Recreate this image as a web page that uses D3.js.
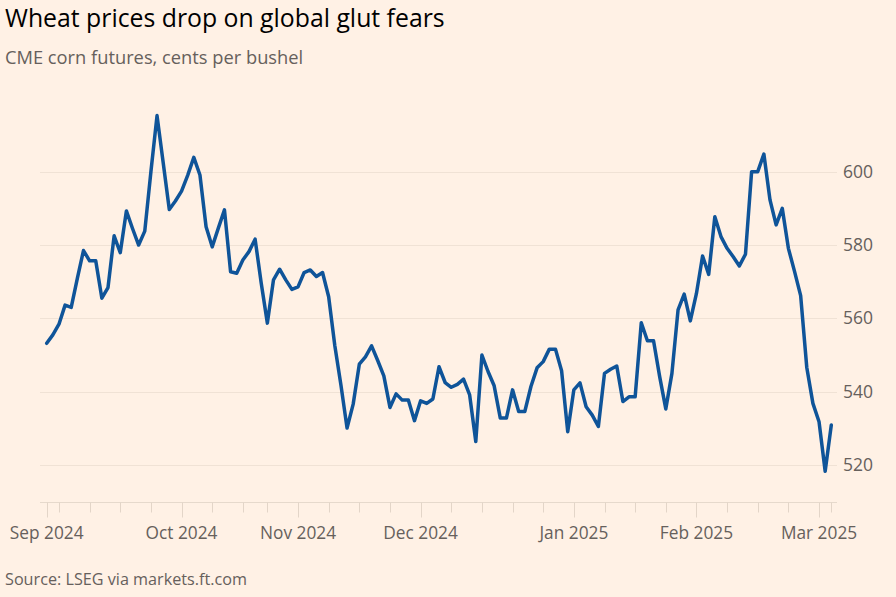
<!DOCTYPE html>
<html>
<head>
<meta charset="utf-8">
<script src="https://cdn.jsdelivr.net/npm/d3@7"></script>
<style>
  html, body { margin: 0; padding: 0; background: #fff1e5; }
  svg { display: block; }
  text { font-family: "Open Sans", "Noto Sans", sans-serif; }
</style>
</head>
<body>
<svg id="chart" width="896" height="597"></svg>
<script>
// ---- Data (weekday index along x, price in cents per bushel) ----
const prices = [
  553.2, 555.5, 558.4, 563.6, 563.0, 570.9, 578.5, 575.7, 575.7, 565.5,
  568.4, 582.5, 577.9, 589.3, 584.5, 580.0, 583.8, 600.0, 615.3, 602.5,
  589.7, 592.0, 594.7, 599.0, 603.9, 599.1, 585.0, 579.5, 584.6, 589.6,
  572.7, 572.3, 575.9, 578.2, 581.6, 569.6, 558.7, 570.5, 573.4, 570.5,
  567.9, 568.6, 572.5, 573.2, 571.4, 572.5, 565.9, 552.6, 541.8, 530.1,
  536.6, 547.5, 549.5, 552.5, 548.5, 544.3, 535.7, 539.4, 537.7, 537.7,
  532.1, 537.5, 536.8, 538.0, 546.8, 542.5, 541.2, 542.0, 543.4, 539.1,
  526.4, 550.0, 545.5, 541.6, 532.8, 532.8, 540.5, 534.6, 534.6, 541.4,
  546.5, 548.2, 551.6, 551.6, 545.7, 529.1, 540.5, 542.4, 535.9, 533.6,
  530.5, 545.0, 546.1, 547.0, 537.3, 538.6, 538.6, 558.8, 553.9, 553.9,
  544.1, 535.3, 545.0, 562.3, 566.6, 559.3, 566.8, 577.0, 572.0, 587.7,
  582.3, 579.1, 576.8, 574.3, 577.5, 600.0, 600.0, 604.8, 592.3, 585.5,
  590.0, 579.1, 572.8, 566.2, 546.6, 536.8, 531.8, 518.3, 530.9
];

// Month labels at the weekly tick of the week containing the month start
const monthTickIndex = [0, 22, 41, 61, 86, 106, 126];
const monthTickLabels = ["Sep 2024", "Oct 2024", "Nov 2024", "Dec 2024", "Jan 2025", "Feb 2025", "Mar 2025"];
// Weekly (minor) ticks, in weekday-index units
const weekTickIndex = [2, 7, 12, 17, 27, 32, 36, 46, 51, 56, 66, 71, 76, 81, 91, 96, 101, 111, 116, 121, 128];

const yTicks = [520, 540, 560, 580, 600];

const titleText = "Wheat prices drop on global glut fears";
const subtitleText = "CME corn futures, cents per bushel";
const sourceText = "Source: LSEG via markets.ft.com";

// ---- Layout ----
const svg = d3.select("#chart");
const plotLeft = 40, plotRight = 837;
const axisY = 502.5;

const x = d3.scaleLinear().domain([0, prices.length - 1]).range([46.7, 831.3]);
const y = d3.scaleLinear().domain([520, 600]).range([465, 171.7]);

// Title & subtitle
svg.append("text").attr("x", 5).attr("y", 27)
  .attr("font-size", 24.8).attr("fill", "#000").text(titleText);
svg.append("text").attr("x", 5).attr("y", 64)
  .attr("font-size", 18.3).attr("fill", "#66605c").text(subtitleText);

// Gridlines
svg.append("g").selectAll("line").data(yTicks).join("line")
  .attr("x1", plotLeft).attr("x2", plotRight)
  .attr("y1", d => Math.round(y(d)) + 0.5).attr("y2", d => Math.round(y(d)) + 0.5)
  .attr("stroke", "#f0e2d5").attr("stroke-width", 1);

// Y axis labels (right)
svg.append("g").selectAll("text").data(yTicks).join("text")
  .attr("x", 843).attr("y", d => y(d)).attr("dy", "0.35em")
  .attr("font-size", 17.5).attr("fill", "#66605c")
  .text(d => d);

// X axis baseline
svg.append("line").attr("x1", plotLeft).attr("x2", plotRight)
  .attr("y1", axisY).attr("y2", axisY)
  .attr("stroke", "#e6d9cc").attr("stroke-width", 1);

// Minor ticks
svg.append("g").selectAll("line").data(weekTickIndex).join("line")
  .attr("x1", d => Math.round(x(d)) + 0.5).attr("x2", d => Math.round(x(d)) + 0.5)
  .attr("y1", axisY).attr("y2", axisY + 10)
  .attr("stroke", "#e3d5c8").attr("stroke-width", 1);

// Month ticks
svg.append("g").selectAll("line").data(monthTickIndex).join("line")
  .attr("x1", d => Math.round(x(d)) + 0.5).attr("x2", d => Math.round(x(d)) + 0.5)
  .attr("y1", axisY).attr("y2", axisY + 15)
  .attr("stroke", "#e3d5c8").attr("stroke-width", 1);

// Month labels
svg.append("g").selectAll("text").data(monthTickIndex).join("text")
  .attr("x", d => x(d)).attr("y", 538.5)
  .attr("text-anchor", "middle")
  .attr("font-size", 17.3).attr("fill", "#66605c")
  .text((d, i) => monthTickLabels[i]);

// Line
const line = d3.line().x((d, i) => x(i)).y(d => y(d)).curve(d3.curveLinear);
svg.append("path").datum(prices)
  .attr("d", line)
  .attr("fill", "none")
  .attr("stroke", "#0f5499")
  .attr("stroke-width", 3.5)
  .attr("stroke-linejoin", "round")
  .attr("stroke-linecap", "round");

// Source
svg.append("text").attr("x", 5).attr("y", 585)
  .attr("font-size", 16.2).attr("fill", "#66605c").text(sourceText);
</script>
</body>
</html>
